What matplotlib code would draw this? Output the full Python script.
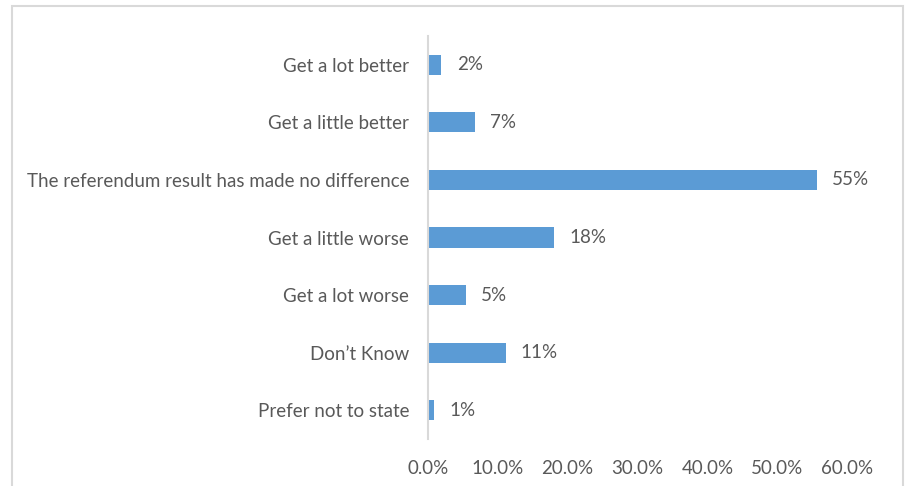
import matplotlib.pyplot as plt
from matplotlib.patches import Rectangle

categories = ["Get a lot better", "Get a little better",
              "The referendum result has made no difference",
              "Get a little worse", "Get a lot worse", "Don\u2019t Know",
              "Prefer not to state"]
values = [1.9, 6.7, 55.7, 18.1, 5.4, 11.1, 0.8]
labels = ["2%", "7%", "55%", "18%", "5%", "11%", "1%"]
ticks = [0, 10, 20, 30, 40, 50, 60]

plt.rcParams['font.family'] = ['Lato', 'DejaVu Sans']
grey = "#595959"
fs = 13.5

fig = plt.figure(figsize=(9.06, 4.86), dpi=100)
ax = fig.add_axes([428 / 906, 1 - 439 / 486, (847 - 428) / 906, 403 / 486])

y = list(range(len(categories)))
ax.barh(y, values, height=0.35, color="#5B9BD5")
for yi, v, lab in zip(y, values, labels):
    ax.text(v + 2.2, yi, lab, va="center", ha="left", fontsize=fs, color=grey)

ax.set_ylim(len(categories) - 0.5, -0.5)
ax.set_xlim(0, 60)
ax.set_yticks(y)
ax.set_yticklabels(categories, fontsize=fs, color=grey)
ax.set_xticks(ticks)
ax.set_xticklabels([f"{t:.1f}%" for t in ticks], fontsize=fs, color=grey)
ax.tick_params(length=0)
ax.tick_params(axis="x", pad=15)
ax.tick_params(axis="y", pad=13.5)
for s in ["top", "right", "bottom"]:
    ax.spines[s].set_visible(False)
ax.spines["left"].set_color("#d9d9d9")
ax.spines["left"].set_linewidth(1.5)

# chart border
fig.patches.append(Rectangle((12 / 906, -0.05), (903 - 12) / 906, 1 - 6 / 486 + 0.05,
                             transform=fig.transFigure, fill=False,
                             edgecolor="#d9d9d9", linewidth=1.5))

plt.savefig("out.png", dpi=100)
